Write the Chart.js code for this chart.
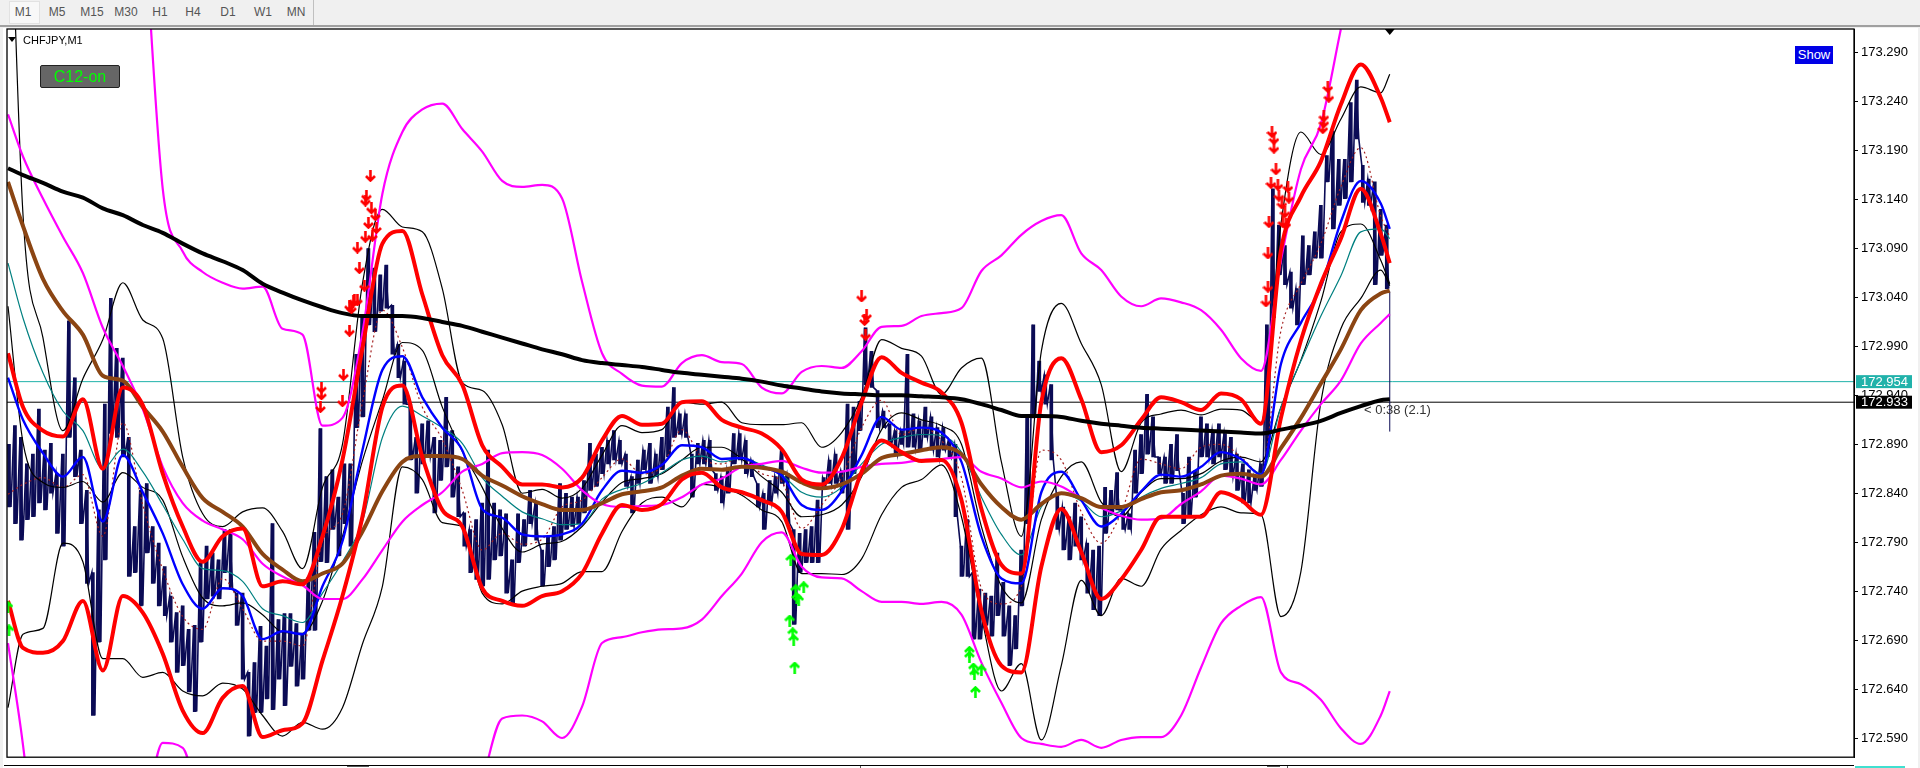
<!DOCTYPE html>
<html>
<head>
<meta charset="utf-8">
<title>CHFJPY,M1</title>
<script src="https://cdn.jsdelivr.net/npm/chart.js@4"></script>
<style>
  html, body { margin: 0; padding: 0; width: 1920px; height: 768px; overflow: hidden; background: #f0f0f0; }
  body { position: relative; font-family: "Liberation Sans", sans-serif; }
  #panel { position: absolute; left: 3px; top: 28px; width: 1915px; height: 740px; background: #fff; }
  #myChart { position: absolute; left: 0; top: 0; }
  .tab { position: absolute; top: 3px; height: 18px; line-height: 18px; width: 32px; margin-left: -16px; text-align: center; font-size: 12px; color: #555; }
  .abs { position: absolute; }
</style>
</head>
<body>
<div class="abs" style="left:0;top:25px;width:1920px;height:2px;background:#a0a0a0"></div>
<div class="abs" style="left:9px;top:1px;width:29px;height:21px;background:#f8f8f8;border:1px solid #e2e2e2"></div>
<div class="abs" style="left:313px;top:0;width:1px;height:25px;background:#c0c0c0"></div>
<div class="tab" style="left:23px">M1</div>
<div class="tab" style="left:57px">M5</div>
<div class="tab" style="left:92px">M15</div>
<div class="tab" style="left:126px">M30</div>
<div class="tab" style="left:160px">H1</div>
<div class="tab" style="left:193px">H4</div>
<div class="tab" style="left:228px">D1</div>
<div class="tab" style="left:263px">W1</div>
<div class="tab" style="left:296px">MN</div>
<div id="panel"></div>
<canvas id="myChart" width="1920" height="768"></canvas>
<div class="abs" style="left:8px;top:37px;width:0;height:0;border-left:4px solid transparent;border-right:4px solid transparent;border-top:5px solid #000"></div>
<div class="abs" style="left:23px;top:32px;font-size:11px;line-height:16px;color:#000">CHFJPY,M1</div>
<div class="abs" style="left:40px;top:65px;width:78px;height:21px;background:#666;border:1px solid #222;border-radius:2px;color:#00ff00;font-size:16px;line-height:21px;text-align:center">C12-on</div>
<div class="abs" style="left:1795px;top:46px;width:38px;height:18px;background:#0000e6;color:#fff;font-size:13px;line-height:18px;text-align:center">Show</div>
<div class="abs" style="left:1364px;top:402px;font-size:13px;line-height:16px;color:#333">&lt; 0:38 (2.1)</div>
<div class="abs" style="left:4px;top:765px;width:1850px;height:1px;background:#000"></div>
<div class="abs" style="left:347px;top:766px;width:22px;height:1px;background:#555"></div>
<div class="abs" style="left:860px;top:766px;width:1px;height:2px;background:#555"></div>
<div class="abs" style="left:1267px;top:766px;width:13px;height:1px;background:#555"></div>
<div class="abs" style="left:1287px;top:766px;width:1px;height:2px;background:#555"></div>
<div class="abs" style="left:1855px;top:766px;width:50px;height:2px;background:#40e0d0"></div>
<script>
// all series are written in points above 172.000 (853 means 172.853)
const basePrice = 172

// bar numbers of the indicator lines
const bars = [5, 20, 40, 60, 80, 100, 120, 140, 160, 180,
  200, 220, 240, 260, 280, 300, 320, 340, 360, 380,
  400, 420, 440, 460, 480, 500, 520, 540, 560, 580,
  600, 620, 640, 660, 680, 700, 720, 740, 760, 780,
  800, 820, 840, 860, 880, 900, 920, 940, 960, 980,
  1000, 1020, 1040, 1060, 1080, 1100, 1120, 1140, 1160, 1180,
  1200, 1220, 1240, 1260, 1280, 1300, 1320, 1340, 1360, 1380,
  1389]

const maSlow = [1172,1165,1157,1148,1142,1131,1124,1114,1106,1095,
  1085,1077,1068,1054,1045,1037,1030,1024,1021,1021,
  1021,1019,1015,1011,1005,999,993,987,982,976,
  973,971,969,966,963,961,959,957,954,950,
  947,944,942,941,940,940,939,938,936,931,
  925,919,919,918,914,911,909,907,906,905,
  904,903,902,901,905,909,914,922,929,935,
  936]

const maBrown = [1158,1113,1059,1026,1002,960,955,928,903,867,
  835,821,806,778,762,750,758,768,801,842,
  872,878,878,875,858,848,837,829,823,823,
  830,839,842,846,858,865,864,867,866,862,
  851,845,849,860,876,880,884,887,880,849,
  826,813,829,840,835,826,826,834,841,843,
  849,858,860,857,886,917,952,987,1027,1044,
  1047]

const magentaMid = [1227,1184,1141,1102,1065,1009,970,926,867,830,
  812,803,793,768,755,746,732,732,752,782,
  811,828,841,862,870,881,882,879,865,843,
  829,826,827,828,836,849,855,867,870,873,
  866,861,862,867,870,871,874,875,877,862,
  855,846,852,847,835,825,817,813,814,829,
  842,858,855,849,874,904,931,955,993,1014,
  1023]

const magentaUp = [null,null,null,null,null,null,null,1448,1151,1087,
  1066,1055,1049,1051,1008,1002,909,917,1004,1146,
  1209,1232,1238,1212,1189,1159,1153,1155,1141,1056,
  983,962,950,949,973,981,974,972,948,942,
  964,970,968,985,1010,1011,1021,1024,1029,1067,
  1083,1104,1118,1124,1085,1068,1041,1031,1039,1035,
  1027,1007,978,965,1078,1171,1217,1314,null,null,
  null]

const magentaLow = [687,583,400,null,null,null,null,491,585,580,
  501,null,null,null,null,null,null,null,null,null,
  null,null,null,null,546,610,613,607,590,622,
  687,693,698,701,702,711,735,758,790,800,
  765,754,753,740,729,729,727,729,716,667,
  626,590,584,581,588,580,588,591,591,613,
  662,707,725,734,657,645,629,600,584,613,
  638]

const redUp = [983,928,904,898,936,865,948,930,860,806,
  770,796,804,745,750,747,796,874,988,1095,
  1108,1043,981,951,889,867,849,849,846,856,
  894,919,910,911,933,934,915,907,901,885,
  854,849,876,933,979,963,953,943,912,824,
  767,758,933,978,936,882,889,915,938,933,
  925,942,936,911,1088,1143,1179,1237,1278,1244,
  1219]

const redLow = [730,682,677,689,730,659,735,718,676,618,
  595,631,643,591,598,605,669,735,816,928,
  950,877,823,806,743,730,725,735,740,758,
  799,828,823,829,854,861,846,841,833,821,
  778,777,803,862,894,882,873,874,833,720,
  664,657,765,824,780,732,752,782,816,816,
  816,841,833,818,917,996,1054,1100,1151,1105,
  1075]

const maBlue = [958,915,881,857,877,811,879,841,799,747,
  722,743,735,691,699,696,745,791,884,966,
  980,938,907,884,824,815,798,796,798,809,
  843,863,861,869,889,887,875,876,867,858,
  828,823,842,879,918,905,907,902,872,796,
  753,748,841,862,833,806,819,842,859,857,
  867,882,875,859,972,1014,1051,1117,1159,1136,
  1110]

const maTeal = [1075,1019,963,924,904,865,885,862,828,793,
  763,761,750,722,715,708,738,770,811,897,
  929,919,907,891,856,837,821,814,808,809,
  834,844,850,861,874,878,872,876,869,859,
  841,836,846,870,890,897,900,899,882,836,
  798,777,826,840,832,816,822,836,845,850,
  856,870,872,860,928,975,1021,1062,1107,1110,
  1100]

const maDotted = [839,849,856,846,859,796,912,828,762,714,
  701,753,722,689,689,684,791,819,933,1027,
  989,928,895,843,782,799,788,793,826,833,
  856,875,860,867,905,876,870,877,860,852,
  804,828,856,907,935,900,907,894,856,743,
  727,745,884,874,821,789,820,875,870,865,
  887,890,877,860,1006,1054,1095,1153,1193,1123,
  1102]

const bandUp = [1547,1125,999,904,957,997,1055,1017,998,877,
  819,806,821,825,801,763,846,890,1054,1130,
  1112,1107,1049,953,945,910,840,844,835,845,
  879,909,902,905,933,931,933,912,910,910,
  912,887,902,938,997,988,980,941,968,978,
  872,796,985,1034,993,951,862,912,921,925,
  920,926,925,912,1115,1209,1186,1222,1255,1249,
  1268]

const bandInner = [1031,892,851,846,852,831,861,846,833,775,
  733,725,728,716,698,697,730,796,873,935,
  994,986,928,883,846,804,780,788,791,806,
  831,851,855,860,874,887,887,875,857,841,
  816,818,828,857,905,922,915,909,890,806,
  745,728,813,857,872,831,816,841,855,855,
  860,873,877,872,928,976,1036,1107,1115,1078,
  1054]

const bandLow = [621,696,702,789,770,671,671,652,657,638,
  633,646,640,613,592,606,599,621,686,745,
  867,854,810,806,738,727,740,745,748,760,
  760,801,830,836,826,849,846,838,823,811,
  758,758,757,773,818,846,854,869,816,714,
  638,666,588,664,751,715,753,745,783,802,
  818,826,820,818,714,760,933,1008,1039,1068,
  1052]

// price, read every 6 bars starting at bar 6
const priceHigh = [890,909,897,870,880,926,884,891,860,880,1016,958,884,843,759,823,931,1039,988,978,897,806,843,850,806,789,765,735,718,725,701,705,769,786,779,772,803,803,738,
  738,657,667,704,684,809,711,717,717,707,697,754,800,906,857,864,836,870,870,
  982,1022,1090,1070,1063,1073,1032,992,975,931,897,911,914,897,894,938,904,867,820,803,813,
  830,884,830,823,819,772,819,813,843,830,782,796,806,850,840,836,836,853,891,880,887,894,904,894,880,857,874,884,891,880,897,928,948,921,921,880,891,894,894,860,
  857,863,901,901,894,874,850,840,853,857,884,860,803,799,803,806,833,856,874,880,863,931,928,934,1009,985,945,924,911,904,904,982,921,914,928,918,907,907,894,890,
  786,813,759,742,738,735,779,749,725,715,782,918,1012,975,961,951,840,826,816,830,816,789,782,786,846,843,861,823,819,884,900,941,918,877,877,890,900,840,877,863,
  918,911,904,911,901,897,880,870,864,857,870,1012,1151,1114,1093,1066,1049,1103,1093,1107,1134,1185,1210,1181,1181,1239,1262,1175,1161,1158,1130,1114]

const priceLow = [826,809,792,813,816,830,823,840,799,786,897,857,809,748,613,688,772,901,897,877,755,759,725,779,748,725,715,688,657,664,637,617,688,732,735,732,759,742,705,
  650,592,616,616,630,619,650,623,663,643,650,700,700,770,769,803,776,809,786,
  907,918,1012,1005,1026,1029,982,958,931,874,840,870,877,820,853,867,836,816,786,759,752,
  745,752,772,776,738,728,769,786,809,792,745,765,772,792,803,806,809,820,843,847,860,870,874,870,847,820,850,864,850,857,864,877,897,900,897,836,870,870,864,843,
  830,840,870,874,860,857,826,803,830,840,850,809,706,759,769,769,769,847,850,850,840,803,860,904,951,948,907,907,890,880,890,887,887,884,897,884,877,884,877,816,
  755,755,691,691,705,694,715,694,664,681,725,809,917,944,931,874,803,782,772,786,772,738,721,715,799,819,823,803,803,840,860,880,877,860,850,850,863,809,816,836,
  877,877,870,877,864,857,843,830,830,843,847,877,1019,1063,1053,1029,1012,1053,1063,1080,1080,1158,1110,1134,1141,1158,1202,1137,1134,1053,1083,1049]

// the bar still open
const lastBar = 1389
const lastBarRange = [903, 1046]

// arrows
const sellBars = [368,364,363,369,373,366,374,363,370,355,357,362,355,351,347,349,352,347,341,340,319,319,318,860,863,865,864,
  1271,1273,1273,1275,1270,1277,1287,1278,1288,1281,1284,1268,1282,1285,1267,1267,1265,1327,1328,1323,1323,1322]
const sellPrices = [1164,1144,1139,1131,1124,1116,1111,1102,1103,1091,1070,1052,1037,1036,1031,1029,1037,1006,961,934,948,941,928,1041,1017,1022,1002,
  1209,1202,1193,1171,1157,1155,1153,1144,1142,1136,1127,1117,1117,1115,1085,1051,1036,1255,1245,1225,1219,1213]
const buyBars = [789,794,802,795,797,788,791,792,793,968,968,972,973,980,974,5,6]
const buyPrices = [772,741,744,733,731,710,697,690,662,678,673,661,655,659,637,724,700]

// axis and the two price lines
const tickLabels = ['173.290','173.240','173.190','173.140','173.090','173.040','172.990','172.940','172.890','172.840','172.790','172.740','172.690','172.640','172.590']
const bidPrice = 172.933
const askPrice = 172.954
const yMin = 172.5704
const yMax = 173.3142
const xMin = 4
const xMax = 1854

function toPrice(p) {
  return p === null ? null : basePrice + p / 1000
}

function linha(serie, cor, largura, ordem, tracejado) {
  return {
    type: 'line',
    data: bars.map((b, i) => ({ x: b, y: toPrice(serie[i]) })),
    borderColor: cor,
    borderWidth: largura,
    borderDash: tracejado || [],
    pointRadius: 0,
    cubicInterpolationMode: 'monotone',
    order: ordem
  }
}

function horizontal(preco, cor) {
  return {
    type: 'line',
    data: [{ x: xMin, y: preco }, { x: xMax, y: preco }],
    borderColor: cor,
    borderWidth: 1,
    pointRadius: 0,
    order: 20
  }
}

// small arrow used as point style
function seta(cor, paraCima) {
  const c = document.createElement('canvas')
  c.width = 11
  c.height = 12
  const g = c.getContext('2d')
  if (paraCima) {
    g.translate(0, 12)
    g.scale(1, -1)
  }
  g.strokeStyle = cor
  g.lineWidth = 2.6
  g.beginPath()
  g.moveTo(5.5, 0)
  g.lineTo(5.5, 11)
  g.moveTo(1, 6)
  g.lineTo(5.5, 10.5)
  g.lineTo(10, 6)
  g.stroke()
  return c
}

function setas(xs, ys, cor, paraCima) {
  return {
    type: 'scatter',
    data: xs.map((b, i) => ({ x: b, y: toPrice(ys[i]) })),
    pointStyle: seta(cor, paraCima),
    pointRadius: 6,
    order: 0
  }
}

const precoBarras = priceHigh.map((h, i) => ({ x: 6 + i * 6, y: [toPrice(priceLow[i]), toPrice(h)] }))

// the same highs and lows joined up, so the price reads as one dense scribble
const precoLinha = []
priceHigh.forEach(function (h, i) {
  precoLinha.push({ x: 6 + i * 6 - 1, y: toPrice(h) })
  precoLinha.push({ x: 6 + i * 6 + 2, y: toPrice(priceLow[i]) })
})

// frame, price tags and the marker of the current bar
const extras = {
  id: 'extras',
  afterDraw(chart) {
    const { ctx, chartArea: a, scales } = chart
    ctx.save()
    ctx.strokeStyle = '#000'
    ctx.lineWidth = 1.3
    ctx.strokeRect(a.left, a.top, a.right - a.left, a.bottom - a.top)

    const lx = scales.x.getPixelForValue(lastBar)
    ctx.fillStyle = '#000'
    ctx.beginPath()
    ctx.moveTo(lx - 5, a.top)
    ctx.lineTo(lx + 5, a.top)
    ctx.lineTo(lx, a.top + 6)
    ctx.fill()

    ctx.font = '13px "Liberation Sans"'
    ctx.textBaseline = 'middle'
    ;[[askPrice, '#20b2aa'], [bidPrice, '#000']].forEach(function (t) {
      const y = scales.y.getPixelForValue(t[0])
      ctx.fillStyle = t[1]
      ctx.fillRect(a.right + 2, y - 6.5, 56, 13)
      ctx.fillStyle = '#fff'
      ctx.fillText(t[0].toFixed(3), a.right + 7, y + 0.5)
    })
    ctx.restore()
  }
}

const ctx = document.getElementById('myChart').getContext('2d')

new Chart(ctx, {
  data: {
    datasets: [
      setas(sellBars, sellPrices, '#ff0000', false),
      setas(buyBars, buyPrices, '#00ff00', true),
      linha(maSlow, '#000000', 4, 1),
      linha(redUp, '#ff0000', 4, 2),
      linha(redLow, '#ff0000', 4, 2),
      linha(maBrown, '#8b4513', 4, 3),
      linha(magentaUp, '#ff00ff', 2.2, 4),
      linha(magentaMid, '#ff00ff', 2.2, 4),
      linha(magentaLow, '#ff00ff', 2.2, 4),
      linha(maBlue, '#0000ff', 2.4, 5),
      linha(maTeal, '#008080', 1.2, 6),
      linha(bandUp, '#000000', 1.2, 7),
      linha(bandInner, '#000000', 1.2, 7),
      linha(bandLow, '#000000', 1.2, 7),
      linha(maDotted, '#a52020', 1.2, 8, [2, 3]),
      {
        type: 'bar',
        data: precoBarras,
        backgroundColor: '#0b0b55',
        barThickness: 3,
        grouped: false,
        order: 10
      },
      {
        type: 'line',
        data: precoLinha,
        borderColor: '#0b0b55',
        borderWidth: 1.6,
        pointRadius: 0,
        tension: 0,
        order: 10
      },
      {
        type: 'line',
        data: [{ x: lastBar, y: toPrice(lastBarRange[0]) }, { x: lastBar, y: toPrice(lastBarRange[1]) }],
        borderColor: '#0b0b55',
        borderWidth: 1,
        pointRadius: 0,
        order: 10
      },
      horizontal(askPrice, '#20b2aa'),
      horizontal(bidPrice, '#000000')
    ]
  },
  options: {
    responsive: false,
    animation: false,
    events: [],
    layout: { padding: { left: 4, top: 29, right: 0, bottom: 6 } },
    plugins: { legend: { display: false }, tooltip: { enabled: false } },
    scales: {
      x: { type: 'linear', min: xMin, max: xMax, display: false, offset: false },
      y: {
        position: 'right',
        min: yMin,
        max: yMax,
        afterFit(axis) { axis.width = 66 },
        afterBuildTicks(axis) {
          axis.ticks = tickLabels.map(t => ({ value: Number(t) }))
        },
        grid: { drawOnChartArea: false, tickLength: 4, color: '#000' },
        border: { color: '#000' },
        ticks: {
          autoSkip: false,
          padding: 3,
          color: '#000',
          font: { family: 'Liberation Sans', size: 13 },
          callback: v => Number(v).toFixed(3)
        }
      }
    }
  },
  plugins: [extras]
})
</script>
</body>
</html>
